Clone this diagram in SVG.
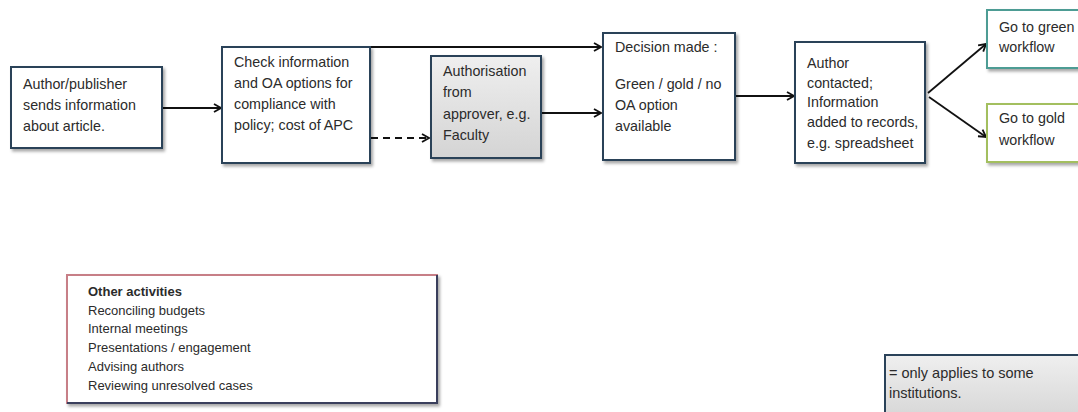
<svg xmlns="http://www.w3.org/2000/svg" width="1078" height="412" viewBox="0 0 1078 412">
<style>
.box{fill:#ffffff;stroke:#2a4259;stroke-width:2;filter:url(#sh)}
.t{font-family:"Liberation Sans",Arial,sans-serif;font-size:14.3px;fill:#2b2b2b}
.s{font-family:"Liberation Sans",Arial,sans-serif;font-size:13px;fill:#2b2b2b}
.c{fill:none;stroke:#111111;stroke-width:1.8}
.d{fill:none;stroke:#111111;stroke-width:1.8;stroke-dasharray:7,5}
</style>
<defs>
<filter id="sh" x="-10%" y="-10%" width="125%" height="130%">
<feDropShadow dx="2" dy="2.5" stdDeviation="1.5" flood-color="#000" flood-opacity="0.35"/>
</filter>
<linearGradient id="gr" x1="0" y1="0" x2="0" y2="1">
<stop offset="0" stop-color="#efefef"/>
<stop offset="1" stop-color="#d4d4d4"/>
</linearGradient>
<marker id="ah" viewBox="0 0 10 10" refX="9" refY="5" markerWidth="10" markerHeight="10" markerUnits="userSpaceOnUse" orient="auto">
<polyline points="2,1 9,5 2,9" fill="none" stroke="#111" stroke-width="1.8"/>
</marker>
</defs>
<rect width="1078" height="412" fill="#ffffff"/>
<g id="connectors">
<line class="c" x1="163" y1="108" x2="221" y2="108" marker-end="url(#ah)"/>
<line class="c" x1="370" y1="47" x2="601" y2="47" marker-end="url(#ah)"/>
<line class="d" x1="371" y1="138" x2="429" y2="138" marker-end="url(#ah)"/>
<line class="c" x1="542" y1="113" x2="601" y2="113" marker-end="url(#ah)"/>
<line class="c" x1="736" y1="96" x2="794" y2="96" marker-end="url(#ah)"/>
<line class="c" x1="928" y1="93" x2="986" y2="44" marker-end="url(#ah)"/>
<line class="c" x1="929" y1="97" x2="986" y2="137" marker-end="url(#ah)"/>
</g>
<g id="n1">
<rect class="box" x="11" y="67" width="151" height="81"/>
<text class="t" x="23" y="89">Author/publisher</text>
<text class="t" x="23" y="110">sends information</text>
<text class="t" x="23" y="131">about article.</text>
</g>
<g id="n2">
<rect class="box" x="222" y="47" width="148" height="116"/>
<text class="t" x="234" y="67">Check information</text>
<text class="t" x="234" y="88">and OA options for</text>
<text class="t" x="234" y="109">compliance with</text>
<text class="t" x="234" y="130">policy; cost of APC</text>
</g>
<g id="n3">
<rect class="box" x="431" y="56" width="110" height="102" style="fill:url(#gr)"/>
<text class="t" x="443" y="76">Authorisation</text>
<text class="t" x="443" y="97">from</text>
<text class="t" x="443" y="119">approver, e.g.</text>
<text class="t" x="443" y="140">Faculty</text>
</g>
<g id="n4">
<rect class="box" x="603" y="33" width="132" height="127"/>
<text class="t" x="615" y="52">Decision made :</text>
<text class="t" x="615" y="89">Green / gold / no</text>
<text class="t" x="615" y="110">OA option</text>
<text class="t" x="615" y="131">available</text>
</g>
<g id="n5">
<rect class="box" x="795" y="42" width="130" height="121"/>
<text class="t" x="807" y="68">Author</text>
<text class="t" x="807" y="88">contacted;</text>
<text class="t" x="807" y="107">Information</text>
<text class="t" x="807" y="127">added to records,</text>
<text class="t" x="807" y="148">e.g. spreadsheet</text>
</g>
<g id="n6">
<rect class="box" x="987" y="10" width="100" height="58" style="stroke:#4e9c94"/>
<text class="t" x="999" y="32">Go to green</text>
<text class="t" x="999" y="52">workflow</text>
</g>
<g id="n7">
<rect class="box" x="987" y="104" width="100" height="58" style="stroke:#a3bf5e"/>
<text class="t" x="999" y="123">Go to gold</text>
<text class="t" x="999" y="145">workflow</text>
</g>
<g id="other">
<rect x="67" y="275" width="370" height="128" fill="#ffffff" filter="url(#sh)" stroke="#c77f87" stroke-width="2"/>
<polyline points="437,275 437,403 67,403" fill="none" stroke="#3a3f5c" stroke-width="2"/>
<text class="s" x="88" y="296" font-weight="bold">Other activities</text>
<text class="s" x="88" y="314.5">Reconciling budgets</text>
<text class="s" x="88" y="333">Internal meetings</text>
<text class="s" x="88" y="351.5">Presentations / engagement</text>
<text class="s" x="88" y="370.5">Advising authors</text>
<text class="s" x="88" y="389.5">Reviewing unresolved cases</text>
</g>
<g id="legend">
<rect x="885" y="355" width="200" height="70" fill="url(#gr)" stroke="#2a4259" stroke-width="2"/>
<text class="s" x="889" y="378" style="font-size:14.5px">= only applies to some</text>
<text class="s" x="889" y="398" style="font-size:14.5px">institutions.</text>
</g>
</svg>
